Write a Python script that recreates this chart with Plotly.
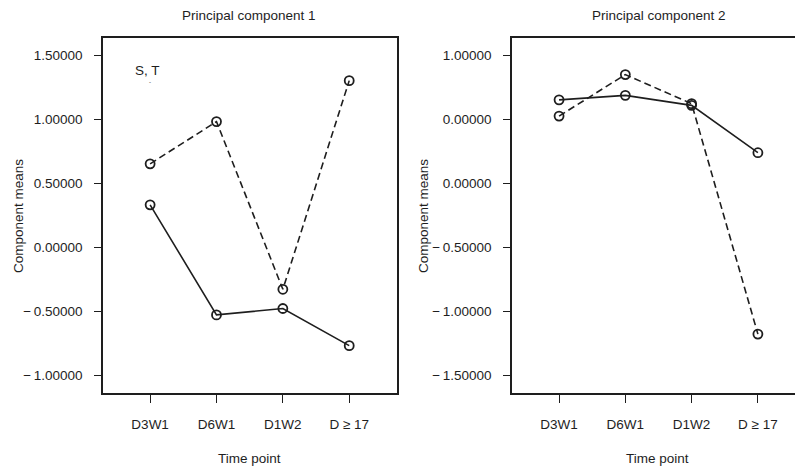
import plotly.graph_objects as go

# Time points on the horizontal axis
time_points = ["D3W1", "D6W1", "D1W2", "D \u2265 17"]

# Component means per group (solid and dashed profiles)
pc1_solid = [0.33, -0.53, -0.48, -0.77]
pc1_dashed = [0.65, 0.98, -0.33, 1.30]
pc2_solid = [0.65, 0.685, 0.607, 0.237]
pc2_dashed = [0.523, 0.847, 0.62, -1.18]

# Y tick values and their printed labels
MINUS = "\u2212\u2009"
pc1_tickvals = [1.5, 1.0, 0.5, 0.0, -0.5, -1.0]
pc1_ticktext = ["1.50000", "1.00000", "0.50000", "0.00000", MINUS + "0.50000", MINUS + "1.00000"]
pc2_tickvals = [1.0, 0.5, 0.0, -0.5, -1.0, -1.5]
pc2_ticktext = ["1.00000", "0.00000", "0.00000", MINUS + "0.50000", MINUS + "1.00000", MINUS + "1.50000"]

FONT = "Liberation Sans, Arial, Helvetica, sans-serif"
INK = "#1e1e1e"
FS = 13.5

fig = go.Figure()

def add_profile(y, dash, xa, ya):
    fig.add_trace(go.Scatter(
        x=time_points, y=y, mode="lines+markers",
        line=dict(color=INK, width=1.6, dash=dash),
        marker=dict(symbol="circle-open", size=9, color=INK, line=dict(width=1.8, color=INK)),
        xaxis=xa, yaxis=ya, showlegend=False, hoverinfo="skip",
    ))

add_profile(pc1_dashed, "7px,4px", "x", "y")
add_profile(pc1_solid, "solid", "x", "y")
add_profile(pc2_dashed, "7px,4px", "x2", "y2")
add_profile(pc2_solid, "solid", "x2", "y2")

ydom = [1 - 393 / 469, 1 - 38 / 469]

xcommon = dict(
    type="category", categoryorder="array", categoryarray=time_points,
    showgrid=False, zeroline=False, showline=True, linecolor=INK, linewidth=1.5,
    mirror=True, ticks="outside", ticklen=8, tickwidth=1.2, tickcolor=INK,
    tickfont=dict(family=FONT, size=FS, color=INK), ticklabelstandoff=10,
)
ycommon = dict(
    showgrid=False, zeroline=False, showline=True, linecolor=INK, linewidth=1.5,
    ticks="outside", ticklen=7, tickwidth=1.2, tickcolor=INK,
    tickfont=dict(family=FONT, size=FS, color=INK), ticklabelstandoff=9,
)

fig.update_layout(
    width=795, height=469,
    margin=dict(l=0, r=0, t=0, b=0),
    paper_bgcolor="white", plot_bgcolor="white",
    font=dict(family=FONT, size=FS, color=INK),
    xaxis=dict(xcommon, domain=[103 / 795, 397 / 795], range=[-0.71, 3.72], anchor="y"),
    yaxis=dict(ycommon, domain=ydom, range=[-1.14, 1.633], mirror=True,
               tickvals=pc1_tickvals, ticktext=pc1_ticktext, anchor="x"),
    xaxis2=dict(xcommon, domain=[512 / 795, 1.0], range=[-0.71, 3.56], anchor="y2"),
    yaxis2=dict(ycommon, domain=ydom, range=[-1.64, 1.133], mirror=False,
                tickvals=pc2_tickvals, ticktext=pc2_ticktext, anchor="x2"),
)

def note(text, x, y, size=FS, angle=0):
    fig.add_annotation(text=text, x=x / 795, y=1 - y / 469, xref="paper", yref="paper",
                       showarrow=False, textangle=angle, xanchor="center", yanchor="middle",
                       font=dict(family=FONT, size=size, color=INK))

note("Principal component 1", 249, 16)
note("Principal component 2", 659, 16)
note("Component means", 18, 216, angle=-90)
note("Component means", 423, 216, angle=-90)
note("Time point", 249, 458)
note("Time point", 657, 458)
note("S, T", 147, 70)
note("-", 150, 82, size=6)

fig.write_html("out.html")
